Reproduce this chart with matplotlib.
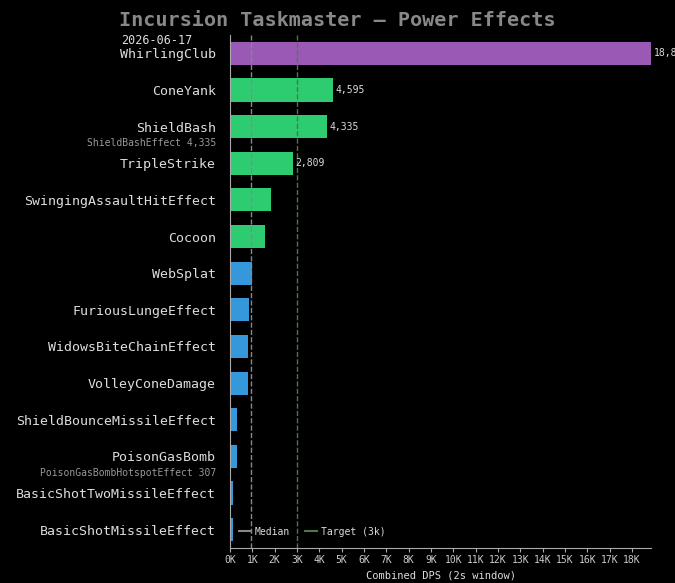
import numpy as np
import matplotlib.pyplot as plt

plt.rcParams['font.family'] = ['DejaVu Sans Mono']

names = ['WhirlingClub', 'ConeYank', 'ShieldBash', 'TripleStrike',
         'SwingingAssaultHitEffect', 'Cocoon', 'WebSplat', 'FuriousLungeEffect',
         'WidowsBiteChainEffect', 'VolleyConeDamage', 'ShieldBounceMissileEffect',
         'PoisonGasBomb', 'BasicShotTwoMissileEffect', 'BasicShotMissileEffect']
dps = np.array([18850, 4595, 4335, 2809, 1855, 1580, 990, 860,
                810, 800, 320, 307, 120, 115])
sublabels = {'ShieldBash': 'ShieldBashEffect 4,335',
             'PoisonGasBomb': 'PoisonGasBombHotspotEffect 307'}
target = 3000

def bar_color(v):
    if v == dps.max():
        return '#9b59b6'
    if v >= 1500:
        return '#2ecc71'
    return '#3498db'

fig = plt.figure(figsize=(6.75, 5.83), dpi=100, facecolor='black')
ax = fig.add_axes([230/675, 1-548/583, 421/675, (548-35)/583], facecolor='black')

y = np.arange(len(names))
ax.barh(y, dps, height=0.63, color=[bar_color(v) for v in dps])
ax.set_ylim(len(names)-0.5, -0.5)
ax.set_xlim(0, dps.max())

med = np.median(dps)
ax.axvline(med, color='#888888', ls='--', lw=1, label='Median')
ax.axvline(target, color='#4a7a4a', ls='--', lw=1, label='Target (3k)')

# value labels only for the big ones
for i, v in enumerate(dps):
    if v > 2000:
        ax.text(v + 120, i, f'{v:,}', va='center', ha='left', fontsize=7,
                color='#dddddd', clip_on=False)

ax.set_yticks(y)
ax.set_yticklabels(names, fontsize=9.5, color='#dddddd')
ax.tick_params(axis='y', length=0, pad=10)
for i, n in enumerate(names):
    if n in sublabels:
        ax.annotate(sublabels[n], xy=(0, i), xycoords=('axes fraction', 'data'),
                    xytext=(-10, -12), textcoords='offset points', ha='right',
                    va='center', fontsize=7, color='#999999')

ticks = np.arange(0, 19000, 1000)
ax.set_xticks(ticks)
ax.set_xticklabels([f'{t//1000}K' for t in ticks], fontsize=7, color='#cccccc')
ax.tick_params(axis='x', colors='#aaaaaa', length=3, pad=2, labelcolor='#cccccc')
ax.set_xlabel('Combined DPS (2s window)', fontsize=7.5, color='#dddddd', labelpad=4)

for s in ['top', 'right']:
    ax.spines[s].set_visible(False)
ax.spines['left'].set_color('#aaaaaa')
ax.spines['bottom'].set_color('#aaaaaa')

leg = ax.legend(loc='lower left', ncol=2, frameon=False, fontsize=7,
                labelcolor='#dddddd', handlelength=1.2, handletextpad=0.4,
                columnspacing=1.6, bbox_to_anchor=(0.0, 0.005))
for h in leg.get_lines():
    h.set_linestyle('-')
    h.set_linewidth(1.5)

fig.text(0.5, 1-20/583, 'Incursion Taskmaster — Power Effects', ha='center',
         va='center', fontsize=14.5, color='#888888', fontweight='bold')
fig.text(121/675, 1-40/583, '2026-06-17', ha='left', va='center',
         fontsize=8.5, color='#dddddd')

fig.savefig('out.png', dpi=100, facecolor='black')
